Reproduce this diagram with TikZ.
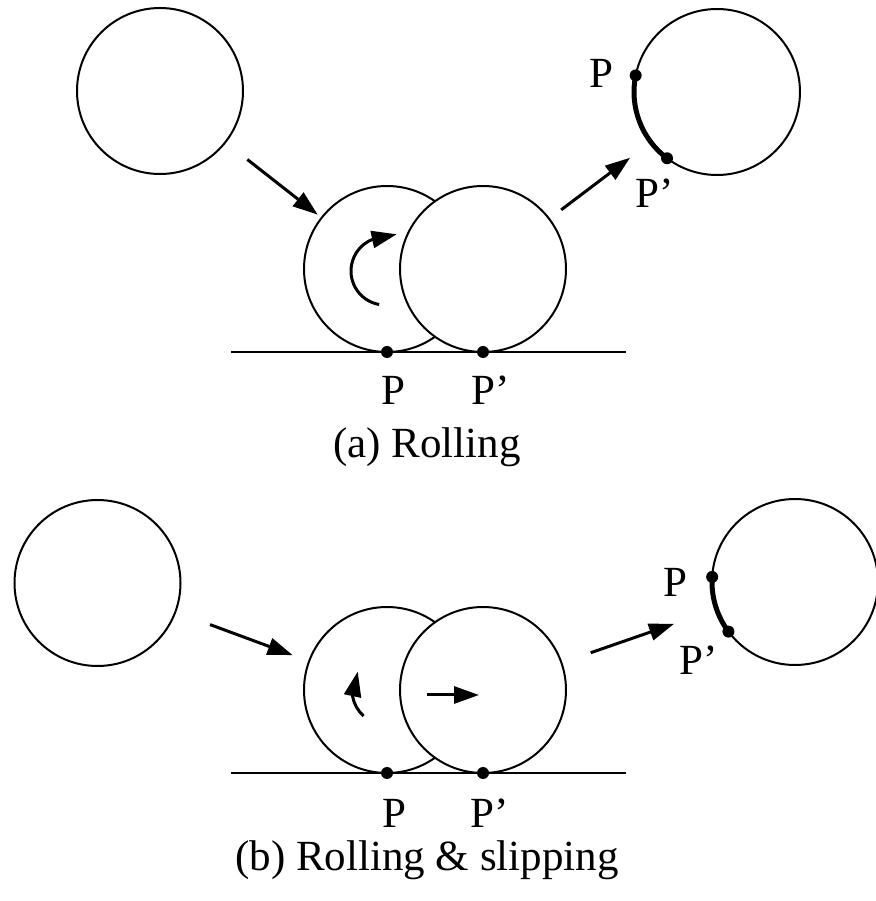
\documentclass[tikz,border=0pt]{standalone}
\usepackage{fontspec}
\setmainfont{Liberation Serif}
\usepackage{tikz}
\usetikzlibrary{arrows.meta, calc}

\begin{document}
\begin{tikzpicture}[x=0.5pt, y=0.5pt,
    ball/.style={draw, circle, line width=1pt, minimum size=83pt, inner sep=0pt},
    front/.style={ball, fill=white},
    flow/.style={-{Triangle[length=12.5pt, width=8.5pt]}, line width=1.5pt},
    lab/.style={inner sep=0pt, anchor=base, font=\fontsize{21.5}{26}\selectfont}]
    \useasboundingbox (0,0) rectangle (875,901);

    % (a) rolling
    \node[ball] (inA) at (160,810) {};
    \node[ball] (rollA) at (387,632) {};
    \node[front] (slideA) at (483,632) {};
    \node[ball] (outA) at (717,809) {};
    \draw[line width=1pt] (231,549) -- (626,549);
    \fill (387,549) circle (6);
    \fill (483,549) circle (6);
    \draw[flow, shorten <=13.5pt, shorten >=2pt] (inA) -- (rollA);
    \draw[flow, shorten <=7pt, shorten >=12.5pt] (slideA) -- (outA);
    \draw[flow] ($(rollA)+(-2,-2)+(260:34)$) arc[start angle=260, end angle=112, radius=34] -- ++(12:25);
    \draw[line width=2.5pt] ($(outA)+(168.5:83)$) arc[start angle=168.5, end angle=233, radius=83];
    \fill ($(outA)+(168.5:83)$) circle (6);
    \fill ($(outA)+(233:83)$) circle (6);
    \node[lab] (pA) at (393.5,496) {P};
    \node[lab] (qA) at (491,496) {P'};
    \node[lab] (pOutA) at (601,813) {P};
    \node[lab] (qOutA) at (655,693) {P'};
    \node[lab] (capA) at (427,443) {(a) Rolling};

    % (b) rolling & slipping
    \node[ball] (inB) at (97.5,318) {};
    \node[ball] (rollB) at (387,211) {};
    \node[front] (slideB) at (483,211) {};
    \node[ball] (outB) at (795,319) {};
    \draw[line width=1pt] (231,128) -- (626,128);
    \fill (387,128) circle (6);
    \fill (483,128) circle (6);
    \draw[flow, shorten <=18pt, shorten >=8.3pt] (inB) -- (rollB);
    \draw[flow, shorten <=15pt, shorten >=22pt] (slideB) -- (outB);
    \draw[flow] ($(rollB)+(228:35)$) arc[start angle=228, end angle=190, radius=35] -- ++(78:25);
    \draw[flow] ($(slideB)+(-56,-5)$) -- ($(slideB)+(-4,-5)$);
    \draw[line width=2.5pt] ($(outB)+(176.5:83)$) arc[start angle=176.5, end angle=216.7, radius=83];
    \fill ($(outB)+(176.5:83)$) circle (6);
    \fill ($(outB)+(216.7:83)$) circle (6);
    \node[lab] (pB) at (394.5,74) {P};
    \node[lab] (qB) at (490,74) {P'};
    \node[lab] (pOutB) at (675.5,304) {P};
    \node[lab] (qOutB) at (699,226) {P'};
    \node[lab] (capB) at (427,31) {(b) Rolling \& slipping};
\end{tikzpicture}
\end{document}
